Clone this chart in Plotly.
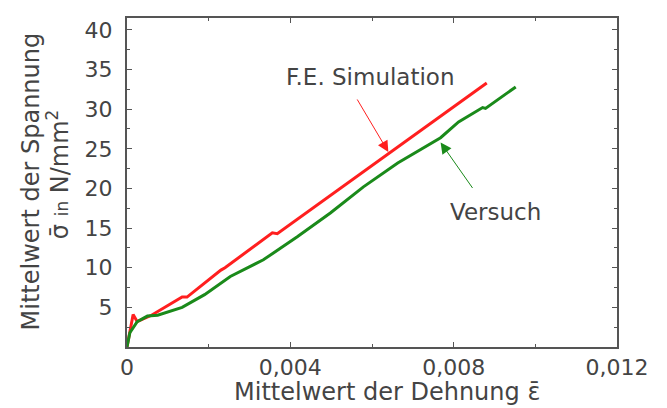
import plotly.graph_objects as go

# F.E. Simulation (red)
fe_strain = [0, 0.00015, 0.00025, 0.0006, 0.00135, 0.00147, 0.0023, 0.0024, 0.00356, 0.00368, 0.00881]
fe_stress = [0, 4.1, 3.2, 4.0, 6.3, 6.3, 9.7, 10.0, 14.4, 14.3, 33.3]

# Versuch (green)
exp_strain = [0, 0.00007, 0.00025, 0.0005, 0.00075, 0.00135, 0.0019, 0.00253, 0.00334, 0.00417,
              0.00498, 0.00579, 0.00663, 0.00768, 0.00812, 0.00871, 0.00878, 0.00952]
exp_stress = [0, 1.8, 3.2, 3.9, 4.0, 5.0, 6.6, 8.9, 11.0, 13.9,
              16.9, 20.2, 23.2, 26.4, 28.4, 30.2, 30.1, 32.8]

x_tickvals = [0, 0.004, 0.008, 0.012]
x_ticktext = ["0", "0,004", "0,008", "0,012"]
y_tickvals = [5, 10, 15, 20, 25, 30, 35, 40]

FONT = "DejaVu Sans"
TXT = "#444444"
AX = "#555555"

fig = go.Figure()
fig.add_trace(go.Scatter(x=fe_strain, y=fe_stress, mode="lines",
                         line=dict(color="#ff1f1f", width=3), name="F.E. Simulation"))
fig.add_trace(go.Scatter(x=exp_strain, y=exp_stress, mode="lines",
                         line=dict(color="#1a8a1a", width=3), name="Versuch"))

axis_common = dict(showline=True, linecolor=AX, linewidth=2, mirror="ticks",
                   ticks="inside", ticklen=5, tickwidth=1, tickcolor=AX,
                   showgrid=False, zeroline=False,
                   tickfont=dict(family=FONT, size=22, color=TXT))

fig.update_xaxes(range=[0, 0.012], tickmode="array", tickvals=x_tickvals, ticktext=x_ticktext,
                 minor=dict(ticks="inside", ticklen=3, dtick=0.002, tick0=0, tickcolor=AX),
                 ticklabelstandoff=0,
                 **axis_common)
fig.update_yaxes(range=[0, 41.5], tickmode="array", tickvals=y_tickvals,
                 minor=dict(ticks="inside", ticklen=3, dtick=2.5, tick0=0, tickcolor=AX),
                 ticklabelstandoff=8,
                 **axis_common)

annotations = [
    dict(text="F.E. Simulation", x=0.00596, y=34.1, xref="x", yref="y", showarrow=False,
         xanchor="center", yanchor="middle",
         font=dict(family=FONT, size=23, color=TXT)),
    dict(text="", x=0.0064, y=24.6, xref="x", yref="y", showarrow=True, ax=-32, ay=-54,
         arrowcolor="#ff1f1f", arrowwidth=1, arrowhead=2, arrowsize=2.2, standoff=0),
    dict(text="Versuch", x=0.00903, y=17.05, xref="x", yref="y", showarrow=False,
         xanchor="center", yanchor="middle",
         font=dict(family=FONT, size=23, color=TXT)),
    dict(text="", x=0.00768, y=25.8, xref="x", yref="y", showarrow=True, ax=33, ay=47,
         arrowcolor="#1a8a1a", arrowwidth=1, arrowhead=2, arrowsize=2.2, standoff=0),
    dict(text="Mittelwert der Dehnung ε\u0304", x=0.53, y=-0.138, xref="paper", yref="paper",
         xanchor="center", yanchor="middle",
         showarrow=False, font=dict(family=FONT, size=24, color=TXT)),
    dict(text="Mittelwert der Spannung", x=-0.196, y=0.503, xref="paper", yref="paper",
         xanchor="center", yanchor="middle",
         showarrow=False, textangle=-90, font=dict(family=FONT, size=24, color=TXT)),
    dict(text="σ\u0304 <span style='font-size:17px'>in</span> N/mm<sup>2</sup>",
         x=-0.141, y=0.525, xref="paper", yref="paper",
         xanchor="center", yanchor="middle",
         showarrow=False, textangle=-90, font=dict(family=FONT, size=24, color=TXT)),
]

fig.update_layout(width=667, height=408, margin=dict(l=127, r=50, t=18, b=61),
                  plot_bgcolor="white", paper_bgcolor="white", showlegend=False,
                  annotations=annotations)

fig.write_html("out.html")
